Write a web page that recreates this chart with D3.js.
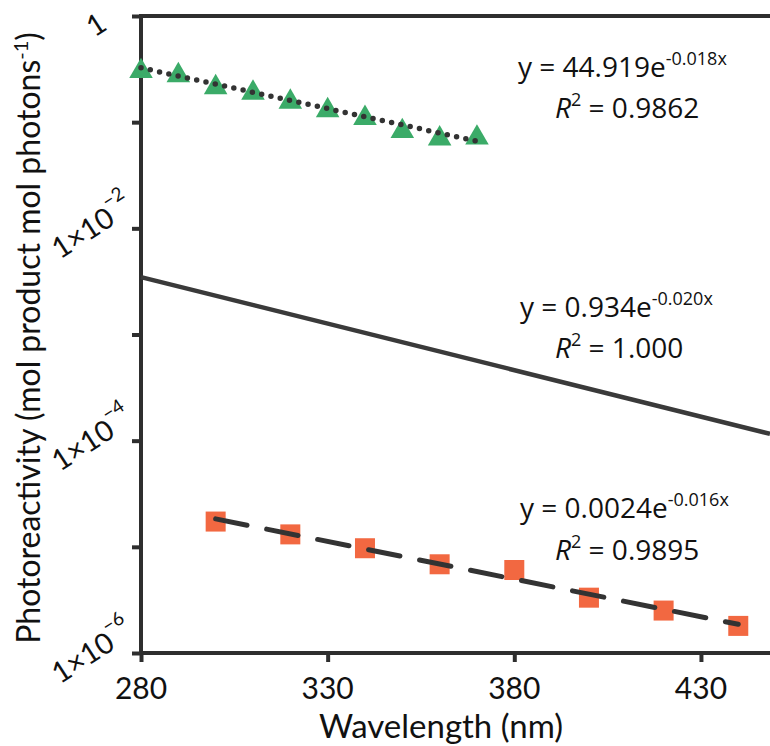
<!DOCTYPE html>
<html>
<head>
<meta charset="utf-8">
<script src="https://cdn.jsdelivr.net/npm/d3@7"></script>
<style>
  html, body { margin: 0; padding: 0; background: #fff; }
  svg { display: block; }
</style>
</head>
<body>
<svg></svg>
<script>
// wavelengths (nm) and photoreactivity values
const triWavelength = [280, 290, 300, 310, 320, 330, 340, 350, 360, 370];
const triValues = [0.315, 0.288, 0.222, 0.197, 0.162, 0.135, 0.114, 0.0857, 0.0730, 0.0745];

const sqWavelength = [300, 320, 340, 360, 380, 400, 420, 440];
const sqValues = [1.73e-5, 1.31e-5, 9.7e-6, 6.85e-6, 6.05e-6, 3.32e-6, 2.51e-6, 1.80e-6];

// solid model line (no markers), two ends
const solidWavelength = [280, 448.5];
const solidValues = [3.47e-3, 1.16e-4];

const xTicks = [280, 330, 380, 430];
const yTicks = [1e-6, 1e-5, 1e-4, 1e-3, 1e-2, 1e-1, 1];
const yLabels = { 1: ['1', null], 1e-2: ['1×10', '−2'], 1e-4: ['1×10', '−4'], 1e-6: ['1×10', '−6'] };

const eqCoef = ['44.919', '0.934', '0.0024'];
const eqExp = ['-0.018x', '-0.020x', '-0.016x'];
const eqR2 = ['0.9862', '1.000', '0.9895'];

const width = 770, height = 746;
const plotLeft = 141, plotTop = 16, plotRight = 770, plotBottom = 653;
const ink = '#2e2e2e';
const font = 'Lato, "Open Sans", sans-serif';

const svg = d3.select('svg').attr('width', width).attr('height', height);

const x = d3.scaleLinear().domain([280, 448.5]).range([plotLeft, plotRight]);
const y = d3.scaleLog().domain([1e-6, 1]).range([plotBottom, plotTop]);

// log-linear least squares, like a spreadsheet exponential trendline
function expFit(xs, ys) {
  const ly = ys.map(v => Math.log10(v));
  const mx = d3.mean(xs), my = d3.mean(ly);
  const b = d3.sum(xs, (d, i) => (d - mx) * (ly[i] - my)) / d3.sum(xs, d => (d - mx) * (d - mx));
  return w => Math.pow(10, my + b * (w - mx));
}

const line = d3.line().x(d => x(d[0])).y(d => y(d[1]));

// axes frame
svg.append('line').attr('x1', plotLeft).attr('x2', plotRight).attr('y1', plotTop).attr('y2', plotTop)
  .attr('stroke', ink).attr('stroke-width', 4);

const yAxis = svg.append('g').attr('transform', `translate(${plotLeft},0)`)
  .call(d3.axisLeft(y).tickValues(yTicks).tickSize(9).tickFormat(''));
const xAxis = svg.append('g').attr('transform', `translate(0,${plotBottom})`)
  .call(d3.axisBottom(x).tickValues(xTicks).tickSize(9).tickFormat(''));
[xAxis, yAxis].forEach(a => {
  a.select('.domain').remove();
  a.selectAll('.tick line').attr('stroke', ink).attr('stroke-width', 4);
});
svg.append('line').attr('x1', plotLeft).attr('x2', plotLeft).attr('y1', plotTop - 2).attr('y2', plotBottom + 2)
  .attr('stroke', ink).attr('stroke-width', 4);
svg.append('line').attr('x1', plotLeft - 2).attr('x2', plotRight).attr('y1', plotBottom).attr('y2', plotBottom)
  .attr('stroke', ink).attr('stroke-width', 4);

// x tick labels
svg.append('g').selectAll('text').data(xTicks).enter().append('text')
  .attr('x', d => x(d)).attr('y', 699)
  .attr('text-anchor', 'middle')
  .attr('font-family', font).attr('font-size', 30).attr('fill', '#111')
  .text(d => d);

// y tick labels, slanted
const yl = svg.append('g').selectAll('text')
  .data(yTicks.filter(d => yLabels[d])).enter().append('text')
  .attr('transform', d => `translate(${yLabels[d][1] ? 91 : 95},${y(d) + (yLabels[d][1] ? -3 : 7)}) rotate(-33)`)
  .attr('text-anchor', 'middle')
  .attr('dominant-baseline', 'central')
  .attr('font-family', font).attr('font-size', 29).attr('fill', '#111');
yl.append('tspan').text(d => yLabels[d][0]);
yl.filter(d => yLabels[d][1]).append('tspan')
  .attr('dy', -13).attr('font-size', 19).text(d => yLabels[d][1]);

// axis titles
svg.append('text').attr('x', 441).attr('y', 738).attr('text-anchor', 'middle')
  .attr('font-family', font).attr('font-size', 33).attr('fill', '#111')
  .text('Wavelength (nm)');

const yt = svg.append('text')
  .attr('transform', 'translate(40,338) rotate(-90)')
  .attr('text-anchor', 'middle')
  .attr('font-family', font).attr('font-size', 32).attr('fill', '#111');
yt.append('tspan').text('Photoreactivity (mol product mol photons');
yt.append('tspan').attr('dy', -12).attr('font-size', 20).text('-1');
yt.append('tspan').attr('dy', 12).text(')');

// solid line
svg.append('path')
  .datum(solidWavelength.map((w, i) => [w, solidValues[i]]))
  .attr('d', line).attr('fill', 'none').attr('stroke', '#3a3a3a').attr('stroke-width', 4.5);

// triangles + dotted fit
svg.append('g').selectAll('path').data(triWavelength).enter().append('path')
  .attr('d', d3.symbol(d3.symbolTriangle, 240))
  .attr('transform', (d, i) => `translate(${x(d)},${y(triValues[i]) + 2})`)
  .attr('fill', '#3bab68');

const triFit = expFit(triWavelength, triValues);
svg.append('path')
  .datum([280, 370].map(w => [w, triFit(w)]))
  .attr('d', line).attr('fill', 'none').attr('stroke', '#333')
  .attr('stroke-width', 5.5).attr('stroke-linecap', 'round').attr('stroke-dasharray', '0 9.5');

// squares + dashed fit
svg.append('g').selectAll('rect').data(sqWavelength).enter().append('rect')
  .attr('x', d => x(d) - 10).attr('y', (d, i) => y(sqValues[i]) - 10)
  .attr('width', 20).attr('height', 20)
  .attr('fill', '#f26841');

const sqFit = expFit(sqWavelength, sqValues);
svg.append('path')
  .datum([300, 440].map(w => [w, sqFit(w)]))
  .attr('d', line).attr('fill', 'none').attr('stroke', '#333')
  .attr('stroke-width', 5).attr('stroke-linecap', 'round').attr('stroke-dasharray', '32 20');

// equations
const eqX = [518, 520, 520];
const eqY = [77, 317, 518];
const r2X = [555, 555, 555];
const r2Y = [118, 358, 560];
const efont = '"Open Sans", sans-serif';
eqCoef.forEach((c, i) => {
  const t = svg.append('text').attr('x', eqX[i]).attr('y', eqY[i])
    .attr('font-family', efont).attr('font-size', 28).attr('fill', '#111');
  t.append('tspan').text(`y = ${c}e`);
  t.append('tspan').attr('dy', -12).attr('font-size', 18).text(eqExp[i]);

  const r = svg.append('text').attr('x', r2X[i]).attr('y', r2Y[i])
    .attr('font-family', efont).attr('font-size', 28).attr('fill', '#111');
  r.append('tspan').attr('font-style', 'italic').text('R');
  r.append('tspan').attr('dy', -12).attr('font-size', 18).text('2');
  r.append('tspan').attr('dy', 12).text(` = ${eqR2[i]}`);
});
</script>
</body>
</html>
